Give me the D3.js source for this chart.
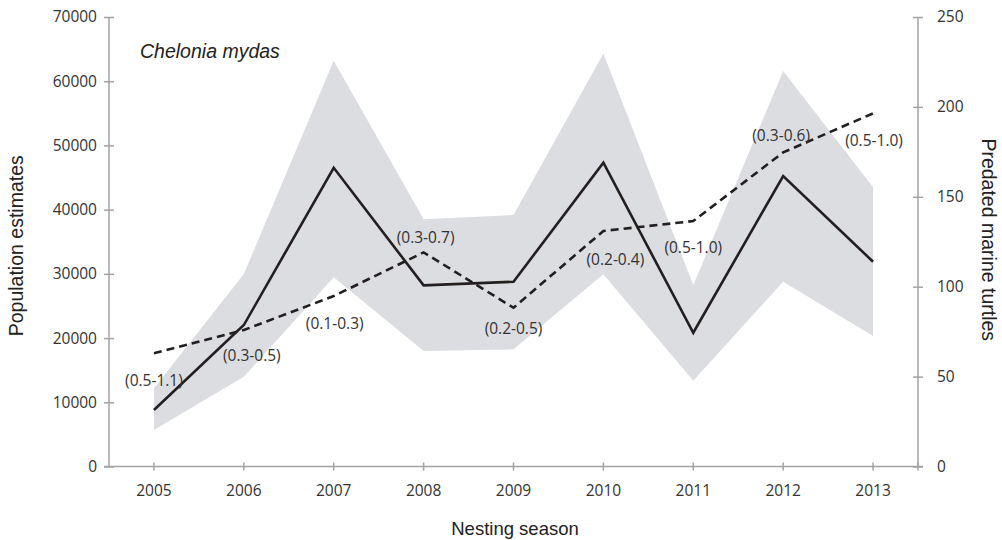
<!DOCTYPE html>
<html>
<head>
<meta charset="utf-8">
<script src="https://cdn.jsdelivr.net/npm/d3@7"></script>
<style>
  html, body { margin: 0; padding: 0; background: #fff; }
  svg { display: block; }
</style>
</head>
<body>
<svg id="chart" width="1002" height="540"></svg>
<script>
// ---- data ----
const years = ["2005","2006","2007","2008","2009","2010","2011","2012","2013"];
const popEstimate = [8800, 22030, 46520, 28210, 28770, 47300, 20830, 45230, 31890];
const popLower    = [5680, 13980, 29460, 17980, 18250, 29920, 13360, 28770, 20320];
const popUpper    = [12180, 29970, 63180, 38490, 39160, 64330, 28260, 61580, 43470];
const predated    = [63.0, 75.9, 94.8, 119.1, 88.3, 131.0, 136.5, 174.7, 196.4];
const rangeLabels = ["(0.5-1.1)","(0.3-0.5)","(0.1-0.3)","(0.3-0.7)","(0.2-0.5)","(0.2-0.4)","(0.5-1.0)","(0.3-0.6)","(0.5-1.0)"];
const leftTicks  = [0, 10000, 20000, 30000, 40000, 50000, 60000, 70000];
const rightTicks = [0, 50, 100, 150, 200, 250];
// label offsets from the dashed-line point (layout only)
const labelDx = [0, 8, 1, 2, 0, 12, 0, -2, 1];
const labelDy = [27, 26, 28, -15, 21, 29, 27, -17, 27];

// ---- layout ----
const svg = d3.select("#chart");
const L = 109, R = 918, T = 17, B = 466.5;
const axisColor = "#a3a3a3";
const textColor = "#333333";

const x = d3.scaleBand().domain(years).range([L, R]).padding(0);
const xc = d => x(d) + x.bandwidth() / 2;
const yL = d3.scaleLinear().domain([0, 70000]).range([B, T]);
const yR = d3.scaleLinear().domain([0, 250]).range([B, T]);

// band
const bandData = years.map((yr, i) => ({yr, lo: popLower[i], hi: popUpper[i]}));
svg.append("path")
  .datum(bandData)
  .attr("fill", "#dcdde0")
  .attr("d", d3.area().x(d => xc(d.yr)).y0(d => yL(d.lo)).y1(d => yL(d.hi)));

// axes
function styleAxis(g) {
  g.select(".domain").attr("stroke", axisColor).attr("stroke-width", 1.5);
  g.selectAll(".tick line").attr("stroke", axisColor).attr("stroke-width", 1.5);
  g.selectAll(".tick text").attr("fill", textColor)
    .style("font-family", "'Open Sans', 'Noto Sans', sans-serif");
}

const gL = svg.append("g").attr("transform", `translate(${L},0)`)
  .call(d3.axisLeft(yL).tickValues(leftTicks).tickSizeInner(10).tickSizeOuter(0).tickFormat(d3.format("d")));
styleAxis(gL);
gL.selectAll(".tick line").attr("x1", 5).attr("x2", -5);
gL.selectAll(".tick text").attr("x", -12).style("font-size", "15.5px");
gL.select(".domain").attr("d", `M0,${B}V${T}`);

const gR = svg.append("g").attr("transform", `translate(${R},0)`)
  .call(d3.axisRight(yR).tickValues(rightTicks).tickSizeInner(10).tickSizeOuter(0));
styleAxis(gR);
gR.selectAll(".tick line").attr("x1", -5).attr("x2", 5);
gR.selectAll(".tick text").attr("x", 19).style("font-size", "15.5px");
gR.select(".domain").attr("d", `M0,${B}V${T}`);

const gX = svg.append("g").attr("transform", `translate(0,${B})`)
  .call(d3.axisBottom(x).tickSizeInner(8).tickSizeOuter(0));
styleAxis(gX);
gX.selectAll(".tick line").attr("y1", -4).attr("y2", 4);
gX.selectAll(".tick text").attr("y", 18).style("font-size", "15.5px");
gX.select(".domain").attr("d", `M${L - 5},0H${R + 5}`);
// end tick at right axis
gX.append("line").attr("x1", R).attr("x2", R).attr("y1", -4).attr("y2", 4)
  .attr("stroke", axisColor).attr("stroke-width", 1.5);

// solid line (population)
svg.append("path")
  .datum(popEstimate)
  .attr("fill", "none").attr("stroke", "#231f20").attr("stroke-width", 2.6)
  .attr("d", d3.line().x((d, i) => xc(years[i])).y(d => yL(d)));

// dashed line (predated)
svg.append("path")
  .datum(predated)
  .attr("fill", "none").attr("stroke", "#231f20").attr("stroke-width", 2.6)
  .attr("stroke-dasharray", "8,5")
  .attr("d", d3.line().x((d, i) => xc(years[i])).y(d => yR(d)));

// range labels
svg.append("g").selectAll("text")
  .data(rangeLabels)
  .join("text")
  .attr("x", (d, i) => xc(years[i]) + labelDx[i])
  .attr("y", (d, i) => yR(predated[i]) + labelDy[i])
  .attr("dy", "0.35em")
  .attr("text-anchor", "middle")
  .attr("fill", textColor)
  .style("font-family", "'Open Sans', 'Noto Sans', sans-serif")
  .style("font-size", "15.5px")
  .text(d => d);

// titles
const titleFont = "'Liberation Sans', Arial, sans-serif";
svg.append("text")
  .attr("transform", `translate(23,${(T + B) / 2 + 4}) rotate(-90)`)
  .attr("text-anchor", "middle")
  .attr("fill", "#222")
  .style("font-family", titleFont).style("font-size", "19.5px")
  .text("Population estimates");

svg.append("text")
  .attr("transform", `translate(982,${(T + B) / 2 - 2}) rotate(90)`)
  .attr("text-anchor", "middle")
  .attr("fill", "#222")
  .style("font-family", titleFont).style("font-size", "19.5px")
  .text("Predated marine turtles");

svg.append("text")
  .attr("x", 515).attr("y", 535)
  .attr("text-anchor", "middle")
  .attr("fill", "#222")
  .style("font-family", titleFont).style("font-size", "18.5px")
  .text("Nesting season");

svg.append("text")
  .attr("x", 140).attr("y", 58)
  .attr("fill", "#222")
  .style("font-family", titleFont).style("font-size", "19.5px").style("font-style", "italic")
  .text("Chelonia mydas");
</script>
</body>
</html>
